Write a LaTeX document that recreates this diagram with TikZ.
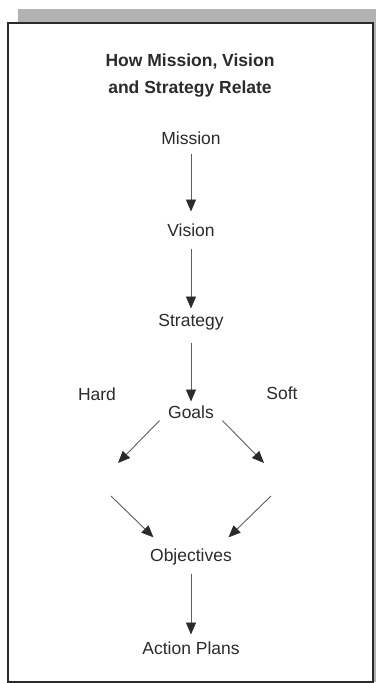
\documentclass[tikz,border=0pt]{standalone}
\usepackage{fontspec}
\setmainfont{Liberation Sans}
\usetikzlibrary{arrows.meta}

\definecolor{ink}{HTML}{2B2B2B}
\definecolor{shaft}{HTML}{5E5E5E}

\begin{document}
\begin{tikzpicture}[x=1pt, y=-1pt,
		word/.style={text=ink, font=\fontsize{17.5}{21}\selectfont, inner sep=0pt, text height=12.6pt, text depth=0pt},
		heading/.style={text=ink, font=\bfseries\fontsize{17.5}{27}\selectfont, inner sep=0pt, align=center, anchor=north},
		flow/.style={draw=shaft, line width=0.9pt, -{Triangle[length=12pt, width=10pt, color=ink, fill=ink]}}]
		\useasboundingbox (0,0) rectangle (376,683);

		% frame with its shadow
		\fill[gray!60] (18,9) rectangle (376,682);
		\draw[ink, fill=white, line width=1.2pt] (8,23) rectangle (373,682);

		\node[heading] (title) at (190,53.5) {How Mission, Vision\\and Strategy Relate};

		\node[word] (mission) at (191,138) {Mission};
		\node[word] (vision) at (191,230) {Vision};
		\node[word] (strategy) at (191,320) {Strategy};
		\node[word] (goals) at (191,412) {Goals};
		\node[word] (hard) at (97,394) {Hard};
		\node[word] (soft) at (282,393) {Soft};
		\node[word] (objectives) at (191,555) {Objectives};
		\node[word] (plans) at (191,648) {Action Plans};

		\coordinate (hardend) at (118,463);
		\coordinate (softend) at (264,463);
		\coordinate (hardstart) at (111,496);
		\coordinate (softstart) at (271,496);

		\draw[flow, shorten <=9pt, shorten >=12pt] (mission) -- (vision);
		\draw[flow, shorten <=12pt, shorten >=5pt] (vision) -- (strategy);
		\draw[flow, shorten <=16pt, shorten >=4pt] (strategy) -- (goals);
		\draw[flow, shorten <=12pt, shorten >=7pt] (objectives) -- (plans);

		\draw[flow, shorten <=12pt] (goals.west) -- (hardend);
		\draw[flow, shorten <=12pt] (goals.east) -- (softend);
		\draw[flow, shorten >=16pt] (hardstart) -- ([xshift=15pt]objectives.north west);
		\draw[flow, shorten >=16pt] (softstart) -- ([xshift=-15pt]objectives.north east);
	\end{tikzpicture}
\end{document}
